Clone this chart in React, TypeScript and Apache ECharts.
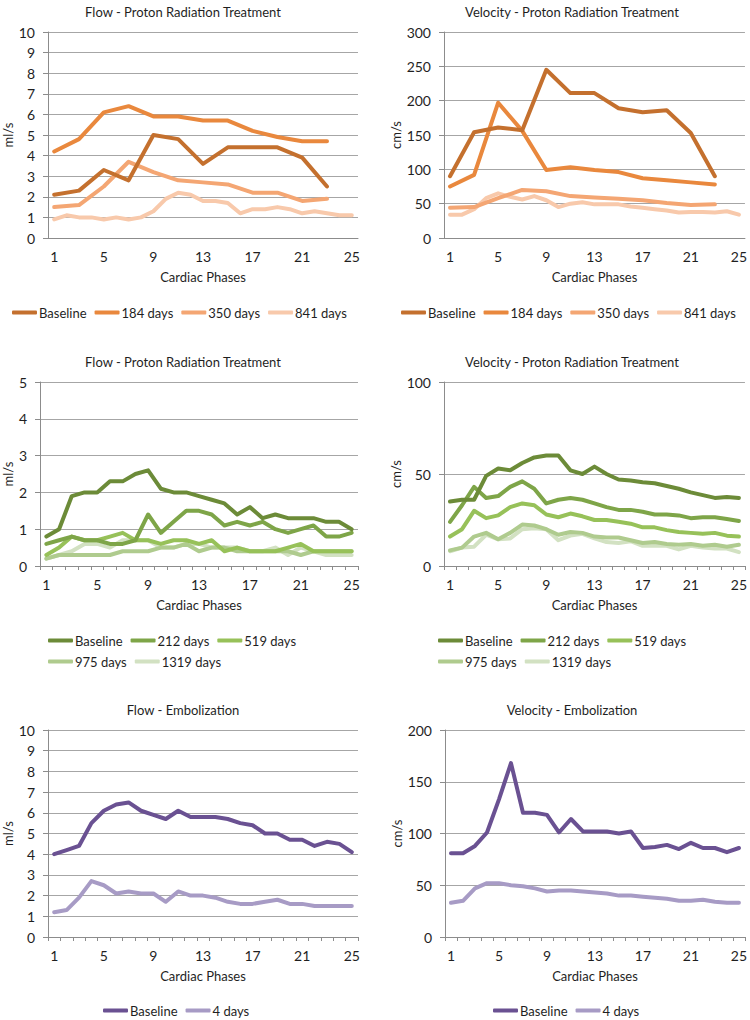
import React, { useEffect, useRef } from "react";
import * as echarts from "echarts";

const PHASES = ["1","2","3","4","5","6","7","8","9","10","11","12","13","14","15","16","17","18","19","20","21","22","23","24","25"];

// Row 1 – Proton Radiation Treatment (orange). Baseline/184/350 measured at odd phases 1..23
const ORANGE_NAMES = ["Baseline", "184 days", "350 days", "841 days"];
const ORANGE_COLORS = ["#C4702E", "#E9883D", "#F4A673", "#F8C9AB"];
const flowOBaseline = [2.1, 2.3, 3.3, 2.8, 5.0, 4.8, 3.6, 4.4, 4.4, 4.4, 3.9, 2.5];
const flowO184 = [4.2, 4.8, 6.1, 6.4, 5.9, 5.9, 5.7, 5.7, 5.2, 4.9, 4.7, 4.7];
const flowO350 = [1.5, 1.6, 2.5, 3.7, 3.2, 2.8, 2.7, 2.6, 2.2, 2.2, 1.8, 1.9];
const flowO841 = [0.9, 1.1, 1.0, 1.0, 0.9, 1.0, 0.9, 1.0, 1.3, 1.9, 2.2, 2.1, 1.8, 1.8, 1.7, 1.2, 1.4, 1.4, 1.5, 1.4, 1.2, 1.3, 1.2, 1.1, 1.1];
const velOBaseline = [90, 154, 161, 157, 245, 211, 211, 189, 183, 186, 153, 90];
const velO184 = [75, 92, 197, 156, 99, 103, 99, 96, 87, 84, 81, 78];
const velO350 = [44, 45, 58, 70, 68, 61, 59, 57, 55, 51, 48, 49];
const velO841 = [34, 34, 42, 58, 65, 60, 56, 61, 55, 45, 50, 52, 49, 49, 49, 46, 44, 42, 40, 37, 38, 38, 37, 39, 34];

// Row 2 – Proton Radiation Treatment (green)
const GREEN_NAMES = ["Baseline", "212 days", "519 days", "975 days", "1319 days"];
const GREEN_COLORS = ["#6C8B38", "#7EA548", "#97C159", "#AFCB8E", "#D2E1C2"];
const flowGBaseline = [0.8, 1.0, 1.9, 2.0, 2.0, 2.3, 2.3, 2.5, 2.6, 2.1, 2.0, 2.0, 1.9, 1.8, 1.7, 1.4, 1.6, 1.3, 1.4, 1.3, 1.3, 1.3, 1.2, 1.2, 1.0];
const flowG212 = [0.6, 0.7, 0.8, 0.7, 0.7, 0.6, 0.6, 0.7, 1.4, 0.9, 1.2, 1.5, 1.5, 1.4, 1.1, 1.2, 1.1, 1.2, 1.0, 0.9, 1.0, 1.1, 0.8, 0.8, 0.9];
const flowG519 = [0.3, 0.5, 0.8, 0.7, 0.7, 0.8, 0.9, 0.7, 0.7, 0.6, 0.7, 0.7, 0.6, 0.7, 0.4, 0.5, 0.4, 0.4, 0.4, 0.5, 0.6, 0.4, 0.4, 0.4, 0.4];
const flowG975 = [0.2, 0.3, 0.3, 0.3, 0.3, 0.3, 0.4, 0.4, 0.4, 0.5, 0.5, 0.6, 0.4, 0.5, 0.5, 0.4, 0.4, 0.4, 0.4, 0.4, 0.3, 0.4, 0.4, 0.4, 0.4];
const flowG1319 = [0.2, 0.3, 0.4, 0.6, 0.6, 0.5, 0.7, 0.7, 0.7, 0.5, 0.5, 0.6, 0.6, 0.5, 0.5, 0.5, 0.4, 0.4, 0.5, 0.3, 0.5, 0.4, 0.3, 0.3, 0.3];
const velGBaseline = [35, 36, 36, 49, 53, 52, 56, 59, 60, 60, 52, 50, 54, 50, 47, 46.5, 45.5, 45, 43.5, 42, 40, 38.5, 37, 37.5, 37];
const velG212 = [24, 33, 43, 37, 38, 43, 46, 42, 34, 36, 37, 36, 34, 32, 30.5, 30.5, 29.5, 28, 28, 27.5, 26, 26.5, 26.5, 25.5, 24.5];
const velG519 = [16, 20, 30, 26, 27.5, 32, 34, 33, 28, 26.5, 28.5, 27, 25, 25, 24, 23, 21, 21, 19.5, 18.5, 18, 17.5, 18, 16.5, 16];
const velG975 = [8.5, 10, 16, 18, 14.5, 18, 22.5, 22, 20, 17, 18.5, 18, 16, 15.5, 15.5, 14, 12.5, 13, 12, 11.5, 12, 11, 11.5, 10.5, 11.5];
const velG1319 = [8, 10, 10.5, 17, 14.5, 15, 20, 20.5, 20, 14, 16.5, 17.5, 15, 13, 12.5, 13.5, 11, 11, 11, 9, 11, 10, 9.5, 9.5, 7.5];

// Row 3 – Embolization (purple)
const PURPLE_NAMES = ["Baseline", "4 days"];
const PURPLE_COLORS = ["#6A5192", "#A79BC5"];
const flowPBaseline = [4.0, 4.2, 4.4, 5.5, 6.1, 6.4, 6.5, 6.1, 5.9, 5.7, 6.1, 5.8, 5.8, 5.8, 5.7, 5.5, 5.4, 5.0, 5.0, 4.7, 4.7, 4.4, 4.6, 4.5, 4.1];
const flowP4 = [1.2, 1.3, 1.9, 2.7, 2.5, 2.1, 2.2, 2.1, 2.1, 1.7, 2.2, 2.0, 2.0, 1.9, 1.7, 1.6, 1.6, 1.7, 1.8, 1.6, 1.6, 1.5, 1.5, 1.5, 1.5];
const velPBaseline = [81, 81, 88, 101, 133, 168, 120, 120, 118, 101, 114, 102, 102, 102, 100, 102, 86, 87, 89, 85, 91, 86, 86, 82, 86];
const velP4 = [33, 35, 47, 52, 52, 50, 49, 47, 44, 45, 45, 44, 43, 42, 40, 40, 39, 38, 37, 35, 35, 36, 34, 33, 33];

const TITLES = [
  "Flow - Proton Radiation Treatment",
  "Velocity - Proton Radiation Treatment",
  "Flow - Proton Radiation Treatment",
  "Velocity - Proton Radiation Treatment",
  "Flow - Embolization",
  "Velocity - Embolization",
];
const Y_NAMES = ["ml/s", "cm/s", "ml/s", "cm/s", "ml/s", "cm/s"];
const Y_MAX = [10, 300, 5, 100, 10, 200];
const Y_STEP = [1, 50, 1, 50, 1, 50];
const X_NAME = "Cardiac Phases";

const atOdd = (v: number[]) => PHASES.map((_, i) => (i % 2 === 0 && v[i / 2] !== undefined ? v[i / 2] : null));

const FONT = "Lato, 'Open Sans', sans-serif";
const TXT = "#1f1f1f";

export default function App() {
  const ref = useRef<HTMLDivElement>(null);
  useEffect(() => {
    if (!ref.current) return;
    const chart = echarts.init(ref.current, undefined, { renderer: "svg" });

    const grids = [
      { left: 48, top: 32, width: 310, height: 206 },
      { left: 444, top: 32, width: 303, height: 206 },
      { left: 40, top: 382, width: 318, height: 184 },
      { left: 444, top: 382, width: 303, height: 184 },
      { left: 48, top: 730, width: 310, height: 207 },
      { left: 445, top: 730, width: 302, height: 207 },
    ];
    const titlePos = [
      [178, 0], [567, 0], [178, 350], [567, 350], [178, 698], [567, 698],
    ];
    const yNameGap = [31, 36, 26, 35, 34, 38];
    const showXTicks = [false, false, true, true, true, true];

    const seriesSets: { names: string[]; colors: string[]; data: (number | null)[][]; connect: boolean[] }[] = [
      { names: ORANGE_NAMES, colors: ORANGE_COLORS, data: [atOdd(flowOBaseline), atOdd(flowO184), atOdd(flowO350), flowO841], connect: [true, true, true, false] },
      { names: ORANGE_NAMES, colors: ORANGE_COLORS, data: [atOdd(velOBaseline), atOdd(velO184), atOdd(velO350), velO841], connect: [true, true, true, false] },
      { names: GREEN_NAMES, colors: GREEN_COLORS, data: [flowGBaseline, flowG212, flowG519, flowG975, flowG1319], connect: [false, false, false, false, false] },
      { names: GREEN_NAMES, colors: GREEN_COLORS, data: [velGBaseline, velG212, velG519, velG975, velG1319], connect: [false, false, false, false, false] },
      { names: PURPLE_NAMES, colors: PURPLE_COLORS, data: [flowPBaseline, flowP4], connect: [false, false] },
      { names: PURPLE_NAMES, colors: PURPLE_COLORS, data: [velPBaseline, velP4], connect: [false, false] },
    ];

    const legendPos = [
      { left: 12, top: 306, width: 360 },
      { left: 401, top: 306, width: 360 },
      { left: 48, top: 634, width: 270 },
      { left: 438, top: 634, width: 270 },
      { left: 103, top: 1004, width: 360 },
      { left: 493, top: 1004, width: 360 },
    ];

    const series: any[] = [];
    seriesSets.forEach((s, gi) => {
      s.names.forEach((n, si) => {
        series.push({
          type: "line",
          name: n,
          xAxisIndex: gi,
          yAxisIndex: gi,
          data: s.data[si],
          connectNulls: s.connect[si],
          symbol: "none",
          color: s.colors[si],
          lineStyle: { width: 4, color: s.colors[si], cap: "round", join: "round" },
          z: 10 - si,
        });
      });
    });

    const option: any = {
      animation: false,
      textStyle: { fontFamily: FONT, color: TXT },
      title: TITLES.map((t, i) => ({
        text: t,
        left: titlePos[i][0],
        top: titlePos[i][1],
        textAlign: "center",
        textStyle: { fontFamily: FONT, fontSize: 13, fontWeight: "normal", color: TXT },
      })),
      legend: seriesSets.map((s, i) => ({
        data: s.names.map((n, k) => ({
          name: n,
          icon: "roundRect",
          itemStyle: { color: s.colors[k], borderWidth: 0 },
        })),
        left: legendPos[i].left,
        top: legendPos[i].top,
        width: legendPos[i].width,
        orient: "horizontal",
        itemWidth: 25,
        itemHeight: 4,
        itemGap: 8,
        padding: 0,
        selectedMode: false,
        textStyle: { fontFamily: FONT, fontSize: 13, color: TXT, padding: [0, 0, 0, -3] },
      })),
      grid: grids.map((g) => ({ ...g, containLabel: false })),
      xAxis: grids.map((_, i) => ({
        type: "category",
        gridIndex: i,
        data: PHASES,
        boundaryGap: true,
        name: X_NAME,
        nameLocation: "middle",
        nameGap: 32,
        nameTextStyle: { fontFamily: FONT, fontSize: 13, color: TXT },
        axisLine: { show: true, lineStyle: { color: "#8C8C8C", width: 1 } },
        axisTick: { show: showXTicks[i], interval: 0, length: 4, lineStyle: { color: "#8C8C8C" } },
        axisLabel: { interval: 3, margin: 11, fontFamily: FONT, fontSize: 14, color: TXT },
        splitLine: { show: false },
      })),
      yAxis: grids.map((_, i) => ({
        type: "value",
        gridIndex: i,
        min: 0,
        max: Y_MAX[i],
        interval: Y_STEP[i],
        name: Y_NAMES[i],
        nameLocation: "middle",
        nameGap: yNameGap[i],
        nameRotate: 90,
        nameTextStyle: { fontFamily: FONT, fontSize: 13, color: TXT },
        axisLine: { show: true, lineStyle: { color: "#8C8C8C", width: 1 } },
        axisTick: { show: true, length: 5, lineStyle: { color: "#8C8C8C" } },
        axisLabel: { margin: 13, fontFamily: FONT, fontSize: 14, color: TXT },
        splitLine: { show: true, lineStyle: { color: "#A6A6A6", width: 1 } },
      })),
      series,
    };

    chart.setOption(option);
    return () => chart.dispose();
  }, []);

  return (
    <div
      ref={ref}
      style={{ position: "absolute", left: 0, top: 0, width: 750, height: 1020, background: "#fff" }}
    />
  );
}
